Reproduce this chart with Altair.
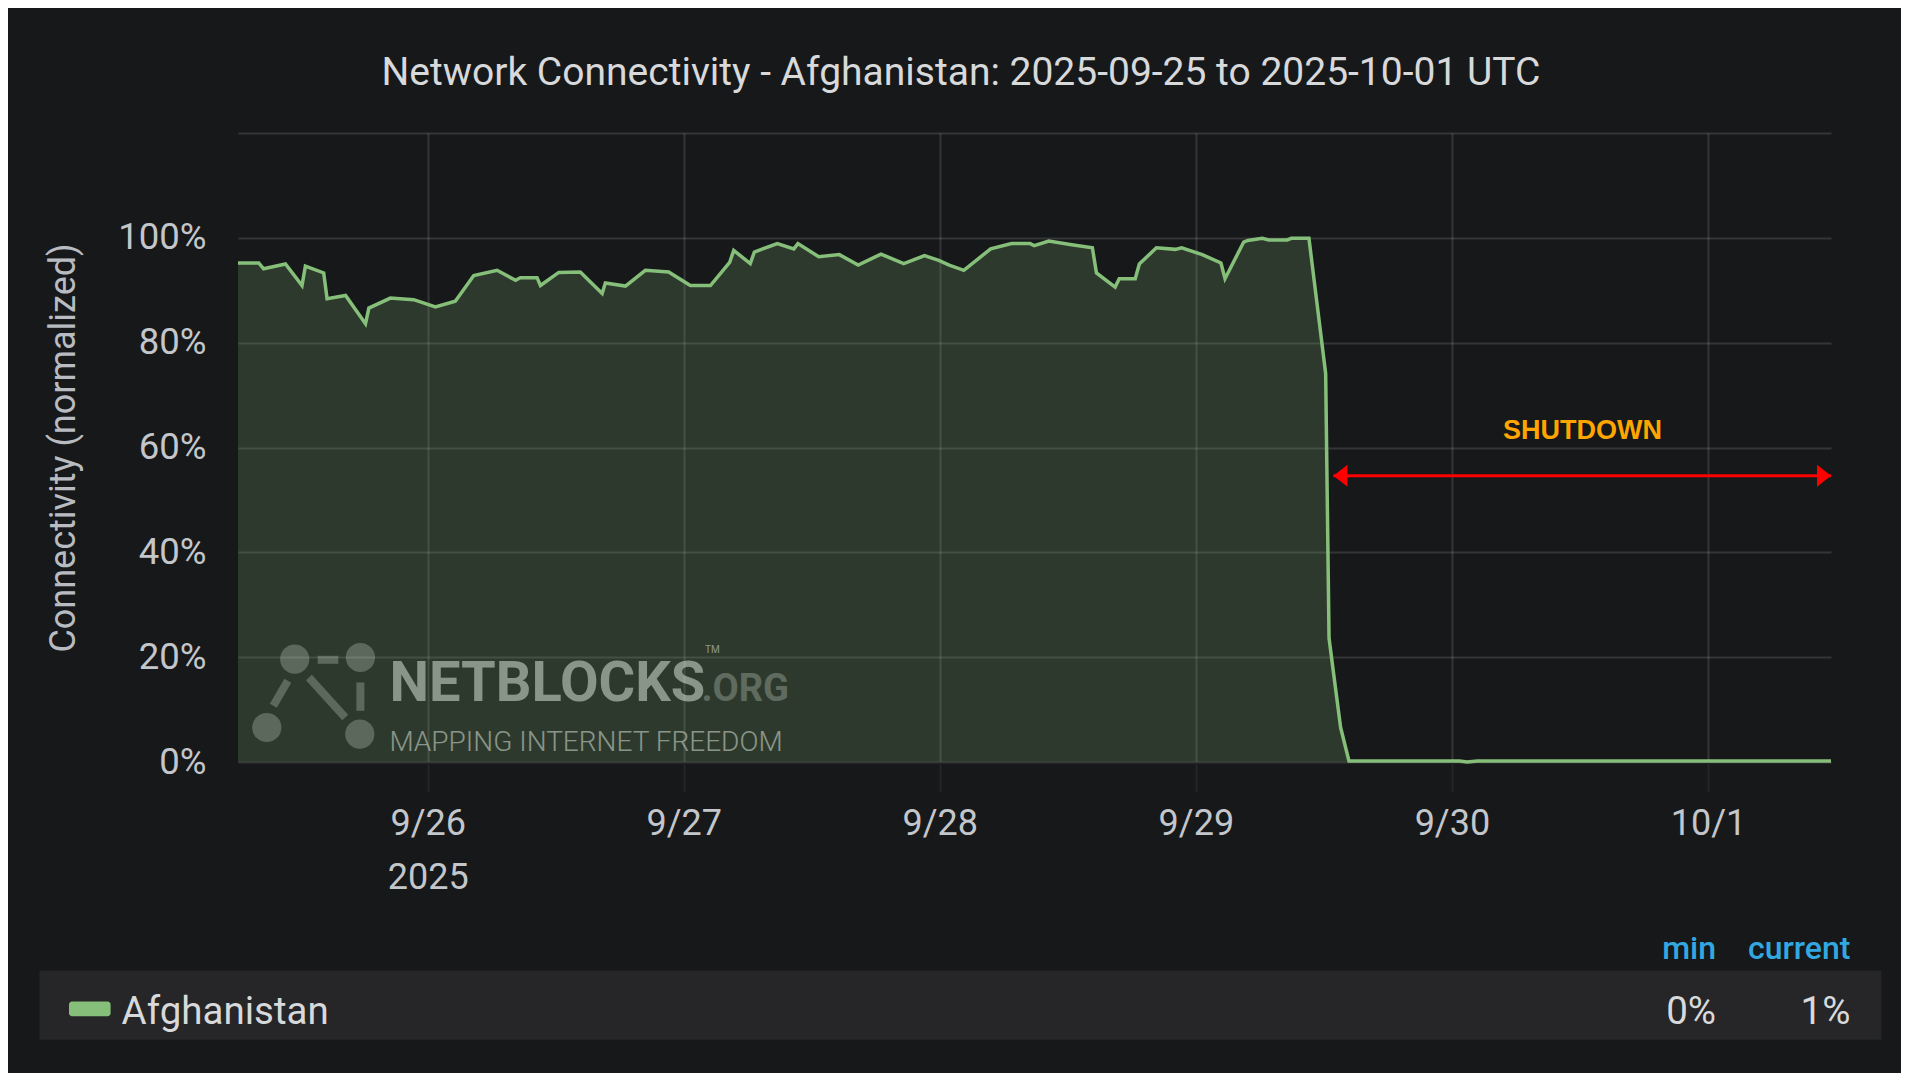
import altair as alt
import pandas as pd

# ---------------- data ----------------
times = [
    "2025-09-25 06:13", "2025-09-25 08:10", "2025-09-25 08:37", "2025-09-25 10:40",
    "2025-09-25 12:13", "2025-09-25 12:32", "2025-09-25 14:15", "2025-09-25 14:34",
    "2025-09-25 16:18", "2025-09-25 18:10", "2025-09-25 18:29", "2025-09-25 20:30",
    "2025-09-25 22:41", "2025-09-26 00:43", "2025-09-26 02:35", "2025-09-26 04:19",
    "2025-09-26 06:30", "2025-09-26 08:14", "2025-09-26 08:41", "2025-09-26 10:15",
    "2025-09-26 10:34", "2025-09-26 12:17", "2025-09-26 14:18", "2025-09-26 16:21",
    "2025-09-26 16:39", "2025-09-26 18:32", "2025-09-26 20:24", "2025-09-26 22:35",
    "2025-09-27 00:37", "2025-09-27 02:30", "2025-09-27 04:18", "2025-09-27 04:41",
    "2025-09-27 06:14", "2025-09-27 06:37", "2025-09-27 08:46", "2025-09-27 10:19",
    "2025-09-27 10:42", "2025-09-27 12:39", "2025-09-27 14:35", "2025-09-27 16:21",
    "2025-09-27 18:29", "2025-09-27 20:37", "2025-09-27 22:34", "2025-09-27 23:54",
    "2025-09-28 00:53", "2025-09-28 02:15", "2025-09-28 04:46", "2025-09-28 06:43",
    "2025-09-28 08:28", "2025-09-28 08:51", "2025-09-28 10:13", "2025-09-28 12:22",
    "2025-09-28 14:18", "2025-09-28 14:41", "2025-09-28 16:26", "2025-09-28 16:49",
    "2025-09-28 18:19", "2025-09-28 18:42", "2025-09-28 20:18", "2025-09-28 22:05",
    "2025-09-28 22:40", "2025-09-29 00:36", "2025-09-29 02:21", "2025-09-29 02:44",
    "2025-09-29 04:29", "2025-09-29 04:52", "2025-09-29 06:14", "2025-09-29 06:49",
    "2025-09-29 08:34", "2025-09-29 08:57", "2025-09-29 10:36", "2025-09-29 12:10",
    "2025-09-29 12:29", "2025-09-29 13:34", "2025-09-29 14:21", "2025-09-30 00:43",
    "2025-09-30 01:26", "2025-09-30 02:24", "2025-10-01 11:32",
]
connectivity = [
    95.2, 95.2, 94.1, 95.0,
    90.9, 94.6, 93.3, 88.4,
    89.0, 83.6, 86.6, 88.5,
    88.2, 86.8, 87.9, 92.8,
    93.8, 91.9, 92.4, 92.4,
    90.9, 93.4, 93.5, 89.4,
    91.4, 90.8, 93.8, 93.5,
    90.9, 90.9, 95.3, 97.6,
    95.1, 97.3, 98.9, 97.9,
    98.9, 96.4, 96.8, 94.8,
    96.9, 95.1, 96.6, 95.7,
    94.8, 93.8, 97.9, 98.9,
    98.9, 98.5, 99.4, 98.7,
    98.1, 93.3, 90.6, 92.2,
    92.2, 95.0, 98.1, 97.8,
    98.1, 96.8, 95.2, 92.2,
    99.2, 99.5, 99.9, 99.6,
    99.6, 99.9, 99.9, 74.1,
    23.6, 6.6, 0.2, 0.2,
    0.0, 0.2, 0.2,
]
country = "Afghanistan"
title_text = "Network Connectivity - Afghanistan: 2025-09-25 to 2025-10-01 UTC"
y_title = "Connectivity (normalized)"
y_ticks = [0, 20, 40, 60, 80, 100, 120]
legend_stats = ["min", "current"]
legend_values = ["0%", "1%"]

shutdown_label = ["SHUTDOWN"]
shutdown_label_time = ["2025-09-30 12:14"]
shutdown_label_value = [63.2]
shutdown_start = ["2025-09-29 12:54"]
shutdown_end = ["2025-10-01 11:32"]
shutdown_value = [54.6]

# ---------------- tables ----------------
df = pd.DataFrame({"time": pd.to_datetime(times).tz_localize("UTC"), "value": connectivity})
arrow_df = pd.DataFrame({
    "t1": pd.to_datetime(shutdown_start).tz_localize("UTC"),
    "t2": pd.to_datetime(shutdown_end).tz_localize("UTC"),
    "v": shutdown_value,
})
label_df = pd.DataFrame({
    "t": pd.to_datetime(shutdown_label_time).tz_localize("UTC"),
    "v": shutdown_label_value,
    "label": shutdown_label,
})
one = pd.DataFrame({"k": [0]})

GREEN = "#86bf79"
BG = "#17181a"
FONT = "Roboto"
W, H = 1593, 629

xscale = alt.Scale(
    type="utc",
    domain=[
        alt.DateTime(year=2025, month=9, date=25, hours=6, minutes=13, utc=True),
        alt.DateTime(year=2025, month=10, date=1, hours=11, minutes=32, utc=True),
    ],
)
yscale = alt.Scale(domain=[0, 120], nice=False)

x_axis = alt.Axis(
    values=[alt.DateTime(year=2025, month=m, date=d, utc=True)
            for m, d in [(9, 26), (9, 27), (9, 28), (9, 29), (9, 30), (10, 1)]],
    labelExpr="utcFormat(datum.value, '%-m/%-d') == '9/26' ? ['9/26', '2025'] : utcFormat(datum.value, '%-m/%-d')",
    title=None,
    grid=True,
    ticks=True,
    tickSize=30,
    tickColor="#24252a",
    tickWidth=2,
    domain=False,
    labelPadding=14.5,
    labelFontSize=36,
    labelLineHeight=54,
    labelColor="#c3c6ca",
    labelFont=FONT,
)
y_axis = alt.Axis(
    values=y_ticks,
    labelExpr="datum.value >= 120 ? '' : datum.value + '%'",
    title=y_title,
    titleFont=FONT,
    titleFontSize=36,
    titleFontWeight="normal",
    titleColor="#b8bcc0",
    titleX=-175,
    titleY=H / 2,
    titleAngle=270,
    titleAlign="center",
    titleBaseline="middle",
    grid=True,
    ticks=False,
    domain=False,
    labelPadding=32,
    labelFontSize=36.5,
    labelColor="#c3c6ca",
    labelFont=FONT,
)

x_enc = alt.X("time:T", scale=xscale, axis=x_axis)
y_enc = alt.Y("value:Q", scale=yscale, axis=y_axis)

area = alt.Chart(df).mark_area(color=GREEN, opacity=0.2).encode(x=x_enc, y=y_enc)
line = alt.Chart(df).mark_line(color=GREEN, strokeWidth=3.5).encode(x=x_enc, y=y_enc)

# ---------------- watermark (decoration) ----------------
WM = "#e6f0e6"
wm_circles = [
    alt.Chart(one).mark_circle(color=WM, opacity=0.26, size=855).encode(
        x=alt.value(cx), y=alt.value(cy))
    for cx, cy in [(56.7, 526.1), (122.4, 524.5), (28.8, 594.5), (121.8, 601.1)]
]
wm_links = [
    alt.Chart(one).mark_rule(color=WM, opacity=0.26, strokeWidth=8).encode(
        x=alt.value(a), y=alt.value(b), x2=alt.value(c), y2=alt.value(d))
    for a, b, c, d in [(79.7, 526.8, 100.3, 526.8), (122.4, 549.5, 122.4, 577.8),
                       (70.9, 544.5, 107.2, 584.5), (35.3, 572.8, 49.8, 547.8)]
]
wm_text1 = alt.Chart(one).mark_text(
    text="NETBLOCKS", font=FONT, fontWeight="bold", fontSize=56, color=WM, opacity=0.5,
    align="left", baseline="alphabetic").encode(x=alt.value(151.4), y=alt.value(567.8))
wm_text2 = alt.Chart(one).mark_text(
    text=".ORG", font=FONT, fontWeight="bold", fontSize=38, color=WM, opacity=0.27,
    align="right", baseline="alphabetic").encode(x=alt.value(551), y=alt.value(567.8))
wm_tm = alt.Chart(one).mark_text(
    text="TM", font=FONT, fontSize=10, color=WM, opacity=0.5,
    align="left", baseline="alphabetic").encode(x=alt.value(467), y=alt.value(520))
wm_text3 = alt.Chart(one).mark_text(
    text="MAPPING INTERNET FREEDOM", font=FONT, fontWeight=300, fontSize=28,
    color=WM, opacity=0.5, align="left", baseline="alphabetic").encode(
    x=alt.value(151.4), y=alt.value(617.8))

# ---------------- shutdown annotation ----------------
arrow_rule = alt.Chart(arrow_df).mark_rule(color="#ff0000", strokeWidth=3).encode(
    x=alt.X("t1:T", scale=xscale), x2="t2:T", y=alt.Y("v:Q", scale=yscale))
arrow_left = alt.Chart(arrow_df).mark_point(
    shape="M 0 0 L 1.27 -1 L 1.27 1 Z", filled=True, color="#ff0000", opacity=1,
    size=484, strokeWidth=0).encode(x=alt.X("t1:T", scale=xscale), y=alt.Y("v:Q", scale=yscale))
arrow_right = alt.Chart(arrow_df).mark_point(
    shape="M 0 0 L -1.27 -1 L -1.27 1 Z", filled=True, color="#ff0000", opacity=1,
    size=484, strokeWidth=0).encode(x=alt.X("t2:T", scale=xscale), y=alt.Y("v:Q", scale=yscale))
shut_text = alt.Chart(label_df).mark_text(
    font="Liberation Sans", fontWeight="bold", fontSize=27, color="#ffa500",
    align="center", baseline="middle").encode(
    x=alt.X("t:T", scale=xscale), y=alt.Y("v:Q", scale=yscale), text="label:N")

# ---------------- title & legend (decoration) ----------------
title = alt.Chart(one).mark_text(
    text=title_text, font=FONT, fontSize=39, color="#d8d9da", align="center",
    baseline="middle").encode(x=alt.value(722.9), y=alt.value(-59.6))

legend_bg = alt.Chart(one).mark_rect(color="#262628").encode(
    x=alt.value(-198.6), x2=alt.value(1643.4), y=alt.value(837.8), y2=alt.value(906.8))
legend_sw = alt.Chart(one).mark_rect(color=GREEN, cornerRadius=3).encode(
    x=alt.value(-169), x2=alt.value(-127.4), y=alt.value(868.4), y2=alt.value(883.2))
legend_name = alt.Chart(one).mark_text(
    text=country, font=FONT, fontSize=38.5, color="#d8d9da", align="left",
    baseline="middle").encode(x=alt.value(-116.4), y=alt.value(878.5))
legend_parts = [legend_bg, legend_sw, legend_name]
for stat, val, xr in zip(legend_stats, legend_values, [1478, 1612.4]):
    legend_parts.append(alt.Chart(one).mark_text(
        text=stat, font=FONT, fontSize=32, fontWeight=500, color="#33a8e0",
        align="right", baseline="middle").encode(x=alt.value(xr), y=alt.value(816)))
    legend_parts.append(alt.Chart(one).mark_text(
        text=val, font=FONT, fontSize=38.5, color="#d8d9da",
        align="right", baseline="middle").encode(x=alt.value(xr), y=alt.value(878.5)))

chart = alt.layer(
    area, *wm_links, *wm_circles, wm_text1, wm_text2, wm_tm, wm_text3, line,
    arrow_rule, arrow_left, arrow_right, shut_text, title, *legend_parts,
).properties(
    width=W, height=H,
    autosize=alt.AutoSizeParams(type="none"),
    padding={"left": 230, "top": 125, "right": 70, "bottom": 311},
    background=BG,
).configure_view(stroke=None).configure_axis(
    gridColor="#ffffff", gridOpacity=0.13, gridWidth=2,
)

chart.save("out.html", embed_options={"renderer": "svg", "actions": False})
